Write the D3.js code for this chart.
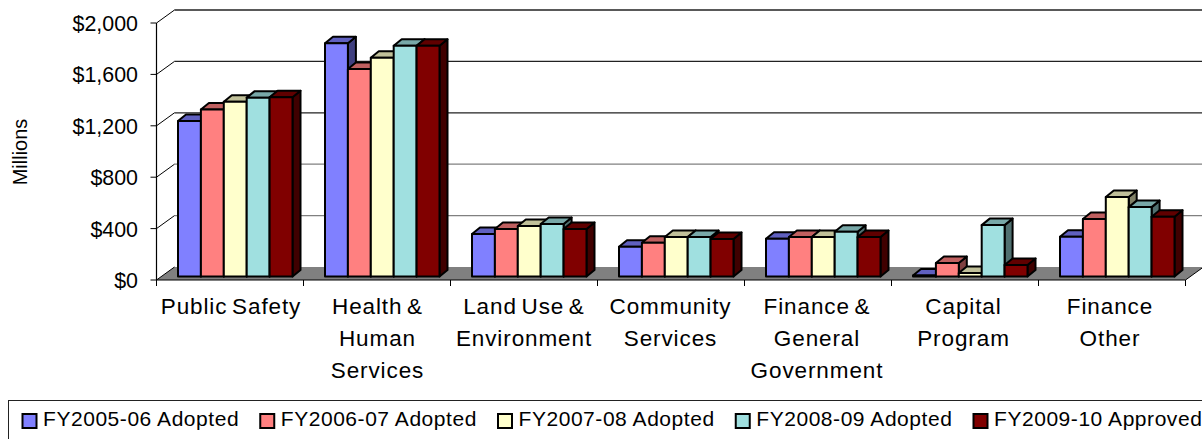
<!DOCTYPE html>
<html><head><meta charset="utf-8">
<script src="https://cdnjs.cloudflare.com/ajax/libs/d3/7.8.5/d3.min.js"></script>
<style>html,body{margin:0;padding:0;background:#fff;overflow:hidden}svg{display:block}text{font-family:"Liberation Sans",Arial,sans-serif;fill:#000}</style>
</head><body><svg id="c" width="1202" height="439"></svg>
<script>
const categories=[["Public Safety"],["Health &","Human","Services"],["Land Use &","Environment"],["Community","Services"],["Finance &","General","Government"],["Capital","Program"],["Finance","Other"]];
const seriesNames=["FY2005-06 Adopted","FY2006-07 Adopted","FY2007-08 Adopted","FY2008-09 Adopted","FY2009-10 Approved"];
const fy0506=[1210,1815,330,232,294,8,310];
const fy0607=[1300,1615,370,263,307,105,447];
const fy0708=[1360,1703,393,307,307,27,618];
const fy0809=[1392,1795,408,307,348,400,540];
const fy0910=[1395,1795,370,292,307,90,465];
const values=[fy0506,fy0607,fy0708,fy0809,fy0910];
const yTicks=[0,400,800,1200,1600,2000];
const fronts=["#8080ff","#ff8080","#ffffcc","#a0e0e0","#800000"];
const tops=["#6060c0","#c06060","#c0c099","#78a8a8","#600000"];
const sides=["#404080","#804040","#808066","#507070","#400000"];

const svg=d3.select("#c");
const x0=d3.scaleBand().domain(d3.range(7)).range([156.5,1185.5]);
const xs=d3.scaleBand().domain(d3.range(5)).range([21.5,136]);
const y=d3.scaleLinear().domain([0,2000]).range([280,23]);
const back={dx:18,dy:-13}, barOff={dx:0,dy:-3.5}, depth={dx:8,dy:-6.5};
const poly=(p,f)=>svg.append("polygon").attr("points",p.map(d=>d.join(",")).join(" ")).attr("fill",f);

const xL=x0.range()[0],xR=x0.range()[1];
poly([[xL,y(0)],[xR,y(0)],[xR+back.dx,y(0)+back.dy],[xL+back.dx,y(0)+back.dy]],"#808080");
yTicks.forEach(t=>{
  if(t>0) svg.append("line").attr("x1",xL+back.dx).attr("x2",1202).attr("y1",y(t)+back.dy).attr("y2",y(t)+back.dy).attr("stroke",t>=1200?"#222":"#808080").attr("stroke-width",1.3);
  svg.append("line").attr("x1",xL).attr("x2",xL+back.dx).attr("y1",y(t)).attr("y2",y(t)+back.dy).attr("stroke","#000").attr("stroke-width",1);
  svg.append("line").attr("x1",xL-6).attr("x2",xL).attr("y1",y(t)).attr("y2",y(t)).attr("stroke","#000");
  svg.append("text").attr("x",138).attr("y",y(t)+8).attr("text-anchor","end").attr("font-size",21.4).text("$"+d3.format(",")(t));
});
svg.append("line").attr("x1",xL).attr("x2",xL).attr("y1",y(2000)).attr("y2",y(0)).attr("stroke","#000").attr("stroke-width",1.2);
svg.append("line").attr("x1",xL).attr("x2",xR).attr("y1",y(0)).attr("y2",y(0)).attr("stroke","#000").attr("stroke-width",1.2);
svg.append("line").attr("x1",xR).attr("x2",xR+back.dx).attr("y1",y(0)).attr("y2",y(0)+back.dy).attr("stroke","#000");
d3.range(8).forEach(i=>{const tx=i<7?x0(i):xR;svg.append("line").attr("x1",tx).attr("x2",tx).attr("y1",y(0)).attr("y2",y(0)+6).attr("stroke","#000");});

categories.forEach((c,i)=>{
  values.forEach((v,s)=>{
    const l=x0(i)+xs(s), r=l+xs.bandwidth(), b=y(0)+barOff.dy, t=y(v[i])+barOff.dy;
    const sw={stroke:"#000","stroke-width":2,"stroke-linejoin":"round"};
    const a=(el)=>{for(const k in sw)el.attr(k,sw[k]);return el;};
    a(poly([[r,b],[r+depth.dx,b+depth.dy],[r+depth.dx,t+depth.dy],[r,t]],sides[s]));
    a(poly([[l,t],[r,t],[r+depth.dx,t+depth.dy],[l+depth.dx,t+depth.dy]],tops[s]));
    a(poly([[l,b],[r,b],[r,t],[l,t]],fronts[s]));
  });
  c.forEach((ln,k)=>svg.append("text").attr("x",x0(i)+x0.bandwidth()/2+1-i*0.5).attr("y",314+k*32).attr("text-anchor","middle").attr("font-size",22.5).attr("letter-spacing",0.9).attr("word-spacing",-2.5).text(ln));
});

svg.append("text").attr("transform","translate(27,152) rotate(-90)").attr("text-anchor","middle").attr("font-size",20).text("Millions");

svg.append("rect").attr("x",8.5).attr("y",400.5).attr("width",1300).attr("height",80).attr("fill","none").attr("stroke","#222");
const lg=d3.scalePoint().domain(d3.range(5)).range([22,973]);
seriesNames.forEach((n,s)=>{
  svg.append("rect").attr("x",lg(s)+.5).attr("y",414).attr("width",14).attr("height",14).attr("fill",fronts[s]).attr("stroke","#000").attr("stroke-width",2);
  svg.append("text").attr("x",lg(s)+21).attr("y",426).attr("font-size",21).attr("letter-spacing",0.55).text(n);
});
</script></body></html>
